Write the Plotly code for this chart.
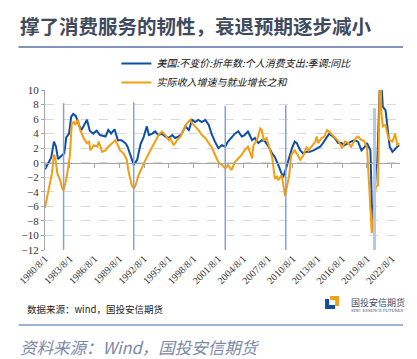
import plotly.graph_objects as go

# ---------------- data ----------------
pce_dates = ["1980-08","1981-01","1981-05","1981-09","1981-12","1982-03","1982-08","1982-12","1983-03","1983-07",
             "1983-10","1984-01","1984-05","1984-10","1985-01","1985-05","1985-09","1986-01","1986-06","1986-11",
             "1987-04","1987-12","1988-04","1988-08","1989-01","1989-06","1989-11","1990-05","1990-08","1991-01",
             "1991-05","1991-10","1992-03","1992-07","1992-12","1993-03","1993-08","1993-12","1994-05","1994-10",
             "1995-03","1995-08","1996-01","1996-05","1996-10","1997-03","1997-08","1998-01","1998-06","1998-10",
             "1999-03","1999-08","2000-01","2000-06","2000-10","2001-03","2001-08","2002-01","2002-06","2002-10",
             "2003-03","2003-08","2004-01","2004-06","2004-10","2005-03","2005-09","2006-01","2006-06","2006-11",
             "2007-04","2007-09","2008-02","2008-06","2008-11","2009-04","2009-06","2009-09","2010-02","2010-07",
             "2010-11","2011-02","2011-07","2011-11","2012-04","2012-09","2013-02","2013-07","2013-12","2014-04",
             "2014-09","2015-01","2015-04","2015-09","2016-02","2016-07","2016-11","2017-04","2017-09","2018-02",
             "2018-07","2018-12","2019-05","2019-08","2020-01","2020-03","2020-05","2020-07","2020-09","2020-11",
             "2021-01","2021-03","2021-05","2021-07","2021-11","2022-02","2022-05","2022-09","2023-01","2023-04",
             "2023-07"]
pce_values = [-0.9,0.0,0.7,2.9,2.2,0.5,0.9,1.3,3.5,4.0,
              6.3,6.7,6.4,5.0,4.5,5.3,5.9,4.4,4.0,4.4,
              3.8,3.6,4.5,4.0,4.6,3.1,3.1,2.7,2.2,0.8,
              -0.3,0.4,2.6,3.4,5.0,3.8,4.0,4.3,3.8,4.0,
              3.6,3.4,3.8,3.4,3.6,4.0,5.0,4.5,5.9,5.6,
              5.9,5.6,5.9,5.2,4.0,2.9,2.0,2.4,2.2,2.9,
              3.4,4.0,4.3,3.6,3.8,4.3,3.1,3.4,2.7,3.1,
              2.9,2.2,1.3,0.8,-0.3,-1.7,-2.0,-1.2,0.4,2.0,
              2.9,2.7,1.7,1.3,1.5,1.5,1.7,2.0,2.2,2.7,
              3.4,4.0,3.8,3.4,2.7,2.7,2.4,2.7,2.9,3.1,
              2.9,1.7,2.2,2.7,1.7,-5.6,-8.8,-4.7,-0.8,0.1,
              8.6,12.0,11.0,7.7,7.2,4.5,2.2,1.5,2.0,2.2,
              2.4]

inc_dates = ["1980-08","1981-01","1981-06","1981-09","1981-11","1982-02","1982-06","1982-09","1982-11","1983-02",
             "1983-04","1983-08","1983-09","1983-11","1984-02","1984-04","1984-08","1984-11","1985-04","1985-09",
             "1985-12","1986-02","1986-07","1986-12","1987-02","1987-07","1987-12","1988-04","1988-12","1989-02",
             "1989-07","1989-09","1990-02","1990-07","1990-09","1991-02","1991-05","1991-07","1991-12","1992-05",
             "1992-10","1993-03","1993-08","1993-12","1994-05","1994-10","1995-03","1995-08","1995-10","1996-03",
             "1996-08","1997-01","1997-05","1997-10","1998-03","1998-06","1998-10","1999-03","1999-08","2000-01",
             "2000-06","2000-10","2001-03","2001-08","2002-01","2002-06","2002-10","2003-03","2003-08","2004-01",
             "2004-06","2004-10","2005-03","2005-09","2005-11","2006-04","2006-09","2006-11","2007-02","2007-06",
             "2007-09","2008-02","2008-06","2008-09","2008-11","2009-04","2009-09","2010-03","2010-06","2010-11",
             "2011-03","2011-07","2011-12","2012-04","2012-07","2013-01","2013-05","2013-07","2013-09","2014-02",
             "2014-06","2014-10","2015-01","2015-06","2015-10","2016-03","2016-08","2016-12","2017-05","2017-09",
             "2018-04","2018-07","2018-12","2019-03","2019-08","2020-02","2020-03","2020-05","2020-07","2020-09",
             "2020-12","2021-01","2021-03","2021-05","2021-07","2021-11","2022-02","2022-05","2022-09","2023-01",
             "2023-04","2023-07"]
inc_values = [-6.2,-3.8,-1.5,1.1,0.6,-1.5,-2.4,-3.5,-3.8,-2.6,
              -1.7,0.8,3.1,5.4,5.6,5.2,5.9,4.5,3.4,2.7,
              2.9,1.7,2.4,2.2,2.9,1.5,1.7,2.2,2.9,3.1,
              2.2,1.7,1.3,0.4,-1.0,-3.1,-3.5,-3.3,-1.7,-0.6,
              0.4,1.3,2.2,3.1,3.8,4.3,3.8,3.1,3.4,2.4,
              3.1,3.6,4.5,5.4,5.9,5.4,5.0,4.5,3.8,3.4,
              2.7,2.2,1.1,0.1,-0.3,-0.8,-0.3,-1.0,0.1,0.6,
              1.1,1.7,2.2,0.6,2.4,3.1,4.7,4.5,3.1,3.4,
              2.4,0.8,-2.1,-1.9,-2.4,-1.7,-4.6,-1.7,1.1,1.7,
              1.1,0.4,1.1,2.2,1.7,2.4,2.9,3.6,2.7,3.4,
              3.6,4.5,4.3,3.8,3.4,2.9,2.0,2.9,2.7,2.2,
              3.4,3.6,3.1,3.1,2.2,-7.0,-9.7,-7.9,-4.7,-3.3,
              -3.1,2.2,14.0,6.8,5.0,5.2,3.8,3.1,2.9,4.0,
              2.4,2.7]

series_names = ["美国:不变价:折年数:个人消费支出:季调:同比", "实际收入增速与就业增长之和"]

tick_dates = ["1980-08-01","1983-08-01","1986-08-01","1989-08-01","1992-08-01","1995-08-01","1998-08-01",
              "2001-08-01","2004-08-01","2007-08-01","2010-08-01","2013-08-01","2016-08-01","2019-08-01","2022-08-01"]
tick_labels = ["1980/8/1","1983/8/1","1986/8/1","1989/8/1","1992/8/1","1995/8/1","1998/8/1",
               "2001/8/1","2004/8/1","2007/8/1","2010/8/1","2013/8/1","2016/8/1","2019/8/1","2022/8/1"]

recession_dates = ["1982-11-01","1991-05-01","2002-06-01","2009-10-01","2020-07-01"]
recession_top = [8.2, 8.3, 7.8, 7.9, 7.5]

title_text = "撑了消费服务的韧性，衰退预期逐步减小"
note_text = "数据来源：wind，国投安信期货"
source_text = "资料来源：Wind，国投安信期货"

# ---------------- figure ----------------
BLUE = "#0d4ea6"
ORANGE = "#f59d0e"
OFF = 8                      # page body margin offset
W, H = 417 - OFF, 359 - OFF  # figure size so it fits the window
# plot area in screen pixels
SX0, SX1, SY0, SY1 = 44.5, 400, 90, 250
L, T = SX0 - OFF, SY0 - OFF
R, B = W - (SX1 - OFF), H - (SY1 - OFF)
pw, ph = SX1 - SX0, SY1 - SY0

def px_x(p):
    return (p - SX0) / pw

def px_y(p):
    return (SY1 - p) / ph

fig = go.Figure()
fig.add_trace(go.Scatter(x=pce_dates, y=pce_values, mode="lines", name=series_names[0],
                         line=dict(color=BLUE, width=2), xaxis="x", yaxis="y"))
fig.add_trace(go.Scatter(x=inc_dates, y=inc_values, mode="lines", name=series_names[1],
                         line=dict(color=ORANGE, width=2), xaxis="x2", yaxis="y"))

xr = ["1980-08-01", "2023-08-01"]
serif = "Liberation Serif"

shapes = []
for i, (d, top) in enumerate(zip(recession_dates, recession_top)):
    last = i == len(recession_dates) - 1
    shapes.append(dict(type="line", xref="x", yref="y", x0=d, x1=d, y0=top, y1=-12.6,
                       line=dict(color="#b5c7e6" if last else "#86a3d4", width=3 if last else 1.5),
                       layer="above"))
# decorative rules
shapes.append(dict(type="line", xref="paper", yref="paper", x0=px_x(18), x1=px_x(403),
                   y0=px_y(47), y1=px_y(47), line=dict(color="#5a72a6", width=1.5)))
shapes.append(dict(type="line", xref="paper", yref="paper", x0=px_x(18), x1=px_x(403),
                   y0=px_y(325), y1=px_y(325), line=dict(color="#9fb2d6", width=2)))
# logo icon
def ppath(pts):
    return "M " + " L ".join(f"{px_x(a):.4f},{px_y(b):.4f}" for a, b in pts) + " Z"
shapes.append(dict(type="path", xref="paper", yref="paper",
                   path=ppath([(330, 296), (339, 296), (339, 306), (335, 306), (335, 300), (330, 300)]),
                   fillcolor="#f0a11c", line=dict(width=0)))
shapes.append(dict(type="path", xref="paper", yref="paper",
                   path=ppath([(325, 299), (329, 299), (329, 305), (335, 305), (335, 309), (325, 309)]),
                   fillcolor="#0f4c9c", line=dict(width=0)))

annotations = [
    dict(text=f"<b>{title_text}</b>", xref="paper", yref="paper", x=px_x(17), y=px_y(8.5),
         xanchor="left", yanchor="top", showarrow=False,
         font=dict(family="Noto Sans CJK SC", size=19.5, color="#3f4a5c")),
    dict(text=note_text, xref="paper", yref="paper", x=px_x(24), y=px_y(309),
         xanchor="left", yanchor="middle", showarrow=False,
         font=dict(family="Noto Sans CJK SC", size=9.5, color="#222222")),
    dict(text=source_text, xref="paper", yref="paper", x=px_x(17), y=px_y(347),
         xanchor="left", yanchor="middle", showarrow=False,
         font=dict(family="Noto Sans CJK SC", size=16.5, color="#7a88a8", style="italic")),
    dict(text="国投安信期货", xref="paper", yref="paper", x=px_x(349), y=px_y(302),
         xanchor="left", yanchor="middle", showarrow=False,
         font=dict(family="Noto Sans CJK SC", size=9, color="#3d4a66")),
    dict(text="SDIC ESSENCE FUTURES", xref="paper", yref="paper", x=px_x(349), y=px_y(310),
         xanchor="left", yanchor="middle", showarrow=False,
         font=dict(family=serif, size=4.5, color="#3d4a66")),
]

fig.update_layout(
    width=W, height=H,
    margin=dict(l=L, r=R, t=T, b=B, pad=0, autoexpand=False),
    paper_bgcolor="white", plot_bgcolor="white",
    showlegend=True,
    legend=dict(x=px_x(116), y=px_y(49), xanchor="left", yanchor="top",
                font=dict(family="Noto Sans CJK SC", size=10, color="#111111", style="italic"),
                bgcolor="rgba(0,0,0,0)", tracegroupgap=0, itemwidth=30),
    xaxis=dict(type="date", range=xr, tickmode="array", tickvals=tick_dates, ticktext=tick_labels,
               tickangle=-45, showgrid=False, showline=False, ticks="", zeroline=False,
               tickfont=dict(family=serif, size=10, color="#333333")),
    xaxis2=dict(type="date", range=xr, overlaying="x", anchor="free", position=12 / 22,
                tickmode="array", tickvals=tick_dates, showticklabels=False,
                showgrid=False, showline=True, linecolor="#a6a6a6", linewidth=1.2,
                ticks="outside", ticklen=4, tickcolor="#a6a6a6", tickwidth=1),
    yaxis=dict(range=[-12, 10], tickmode="linear", tick0=-12, dtick=2,
               showgrid=True, gridcolor="#d9d9d9", griddash="dash", gridwidth=1,
               zeroline=False, showline=True, linecolor="#a6a6a6", linewidth=1,
               ticks="outside", ticklen=3, tickcolor="#a6a6a6",
               tickfont=dict(family=serif, size=11, color="#333333")),
    shapes=shapes,
    annotations=annotations,
)

fig.write_html("out.html")
